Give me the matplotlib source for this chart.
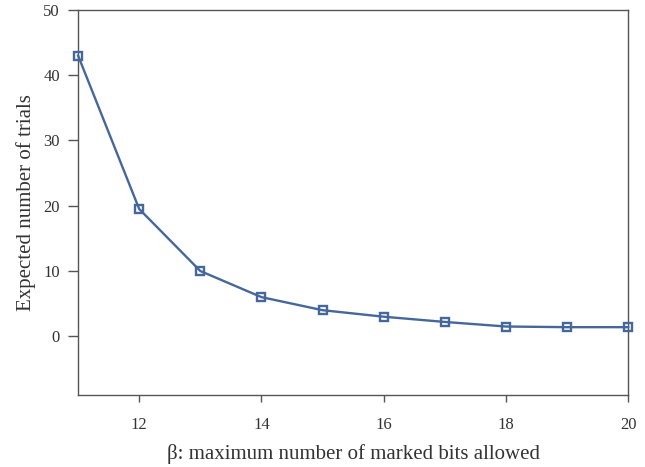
import matplotlib.pyplot as plt

beta = [11, 12, 13, 14, 15, 16, 17, 18, 19, 20]
trials = [43.0, 19.5, 10.0, 6.0, 4.0, 3.0, 2.2, 1.5, 1.4, 1.4]
xticks = [12, 14, 16, 18, 20]
yticks = [0, 10, 20, 30, 40, 50]

plt.rcParams['font.family'] = ['Liberation Serif', 'DejaVu Serif']

fig = plt.figure(figsize=(6.45, 4.67), dpi=100)
ax = fig.add_axes([0.121, 0.154, 0.853, 0.825])

blue = '#46679a'
ax.plot(beta, trials, color=blue, linewidth=1.7, marker='s', markersize=6,
        markerfacecolor='none', markeredgecolor=blue, markeredgewidth=1.7,
        clip_on=False, zorder=3)

ax.set_xlim(11, 20)
ax.set_ylim(-9, 50)
ax.set_xticks(xticks)
ax.set_yticks(yticks)
for s in ax.spines.values():
    s.set_color('#555555')
    s.set_linewidth(1.0)
ax.tick_params(direction='out', width=1.0, color='#555555',
               labelsize=12, labelcolor='#333333')
ax.tick_params(axis='y', length=7, pad=6)
ax.tick_params(axis='x', length=5, pad=11)

ax.set_xlabel('β: maximum number of marked bits allowed', fontsize=15,
              color='#333333', labelpad=8)
ax.set_ylabel('Expected number of trials', fontsize=15, color='#333333',
              labelpad=5)

fig.savefig('out.png', dpi=100)
